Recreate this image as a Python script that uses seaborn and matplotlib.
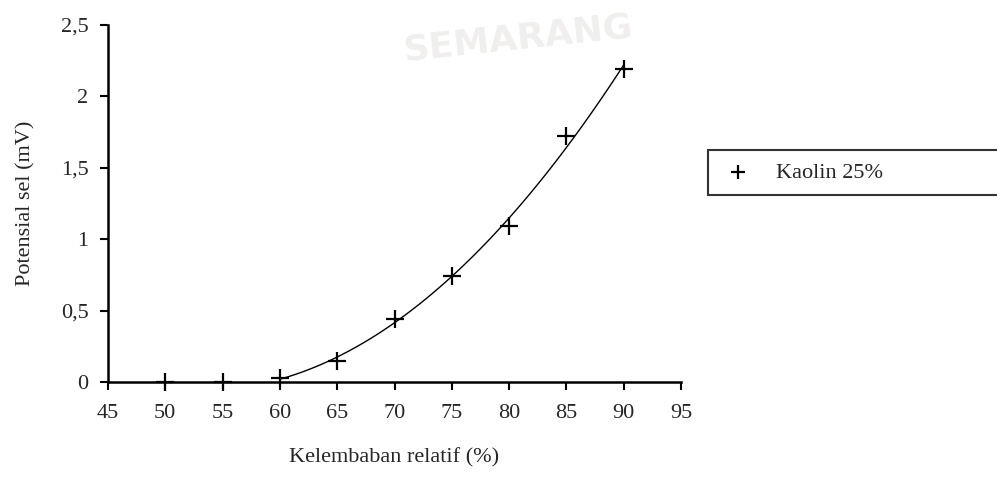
import numpy as np
import pandas as pd
import matplotlib
matplotlib.use("Agg")
import matplotlib.pyplot as plt
import seaborn as sns

# data
kelembaban = [50, 55, 60, 65, 70, 75, 80, 85, 90]
potensial = [0.0, 0.0, 0.03, 0.15, 0.44, 0.74, 1.09, 1.72, 2.19]
x_ticks = [45, 50, 55, 60, 65, 70, 75, 80, 85, 90, 95]
y_ticks = [0, 0.5, 1, 1.5, 2, 2.5]
y_ticklabels = ["0", "0,5", "1", "1,5", "2", "2,5"]

df = pd.DataFrame({"x": kelembaban, "y": potensial})

sns.set_style("white")
plt.rcParams["font.family"] = ["Liberation Serif", "DejaVu Serif"]

fig = plt.figure(figsize=(9.97, 4.78), dpi=100)
ax = fig.add_axes([108 / 997, 96 / 478, (681 - 108) / 997, (453 - 96) / 478])

# faint watermark from the scan
fig.text(0.52, 0.92, "SEMARANG", fontsize=26, color="#f1efee", fontweight="bold",
         family="DejaVu Sans", ha="center", va="center", rotation=6, zorder=0)

# polynomial trendline over the rising part
sns.regplot(data=df[df["x"] >= 60], x="x", y="y", order=2, ci=None, scatter=False,
            truncate=True, color="black", line_kws={"lw": 1.0}, ax=ax)
sns.scatterplot(data=df, x="x", y="y", marker="+", s=160, color="black",
                linewidth=1.6, ax=ax, label="Kaolin 25%", zorder=3, clip_on=False)

ax.set_xlim(45, 95)
ax.set_ylim(0, 2.5)
ax.set_xticks(x_ticks)
ax.set_yticks(y_ticks)
ax.set_yticklabels(y_ticklabels)
ax.tick_params(axis="both", labelsize=16, length=6, width=1.5, color="black",
               direction="out", bottom=True, left=True)
ax.tick_params(axis="x", pad=10)
ax.tick_params(axis="y", pad=8)
for s in ["top", "right"]:
    ax.spines[s].set_visible(False)
for s in ["left", "bottom"]:
    ax.spines[s].set_color("black")
    ax.spines[s].set_linewidth(1.8)

ax.set_xlabel("Kelembaban relatif (%)", fontsize=16, labelpad=18)
ax.set_ylabel("Potensial sel (mV)", fontsize=16, labelpad=18)

leg = ax.legend(loc="upper left", bbox_to_anchor=(708 / 997, 1 - 198 / 478, 0.32, 48 / 478),
                bbox_transform=fig.transFigure, mode="expand", fontsize=16,
                frameon=True, fancybox=False, borderaxespad=0, handletextpad=0.9,
                handlelength=1.6, borderpad=0.55, markerscale=0.8)
leg.get_frame().set_edgecolor("black")
leg.get_frame().set_linewidth(1.5)

fig.savefig("out.png", dpi=100)
